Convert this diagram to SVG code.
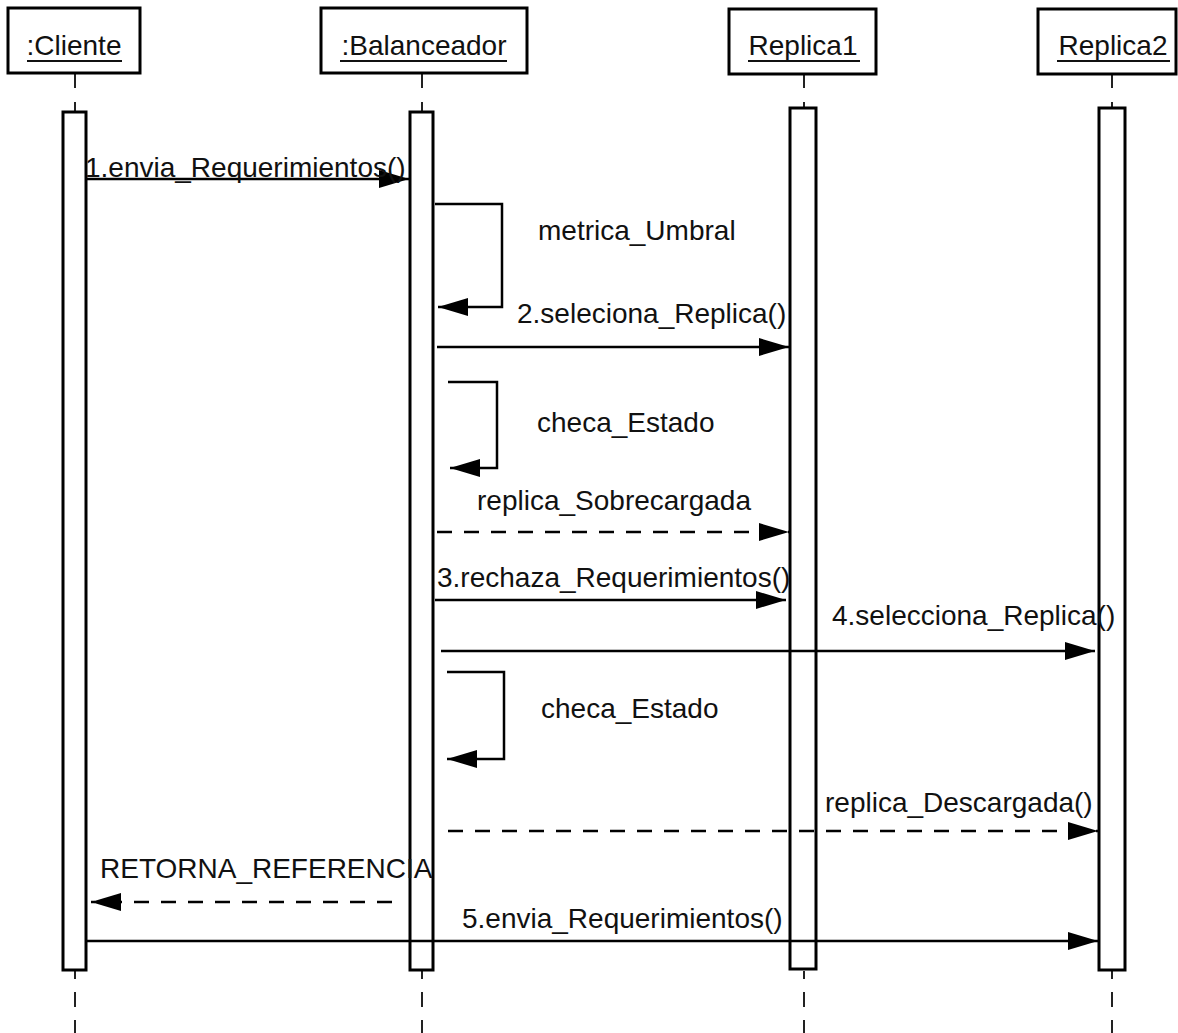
<svg xmlns="http://www.w3.org/2000/svg" width="1178" height="1033" viewBox="0 0 1178 1033">
  <style>
    .obj { fill: #fff; stroke: #000; stroke-width: 3; }
    .act { fill: #fff; stroke: #000; stroke-width: 3; }
    .life { stroke: #222; stroke-width: 2; fill: none; }
    .msg { stroke: #000; stroke-width: 2.5; fill: none; marker-end: url(#head); }
    .dash { stroke-dasharray: 15 12; }
    text { font-family: "Liberation Sans", Arial, sans-serif; font-size: 28px; fill: #111; }
    .name { text-anchor: middle; }
    .uline { stroke: #111; stroke-width: 2; }
  </style>
  <defs>
    <marker id="head" viewBox="0 0 30 18" refX="30" refY="9" markerWidth="30" markerHeight="18" markerUnits="userSpaceOnUse" orient="auto">
      <path d="M0,0 L30,9 L0,18 z" fill="#000"/>
    </marker>
  </defs>
  <rect width="1178" height="1033" fill="#fff"/>

  <!-- lifelines: dashed stems above and below each activation bar -->
  <g id="lifelines">
    <line class="life" x1="75" y1="74" x2="75" y2="112" stroke-dasharray="14 14"/>
    <line class="life" x1="75" y1="971" x2="75" y2="1033" stroke-dasharray="15 13" stroke-dashoffset="7"/>
    <line class="life" x1="422" y1="74" x2="422" y2="112" stroke-dasharray="14 14"/>
    <line class="life" x1="422" y1="971" x2="422" y2="1033" stroke-dasharray="15 13" stroke-dashoffset="7"/>
    <line class="life" x1="804" y1="74" x2="804" y2="108" stroke-dasharray="14 14"/>
    <line class="life" x1="804" y1="971" x2="804" y2="1033" stroke-dasharray="15 13" stroke-dashoffset="7"/>
    <line class="life" x1="1112" y1="74" x2="1112" y2="108" stroke-dasharray="14 14"/>
    <line class="life" x1="1112" y1="971" x2="1112" y2="1033" stroke-dasharray="15 13" stroke-dashoffset="7"/>
  </g>

  <g id="cliente">
    <rect class="obj" x="8" y="8" width="132" height="65"/>
    <text class="name" x="74" y="55">:Cliente</text>
    <line class="uline" x1="27" y1="61" x2="122" y2="61"/>
    <rect class="act" x="63" y="112" width="23" height="858"/>
  </g>

  <g id="balanceador">
    <rect class="obj" x="321" y="8" width="206" height="65"/>
    <text class="name" x="424" y="55">:Balanceador</text>
    <line class="uline" x1="340" y1="61" x2="507" y2="61"/>
    <rect class="act" x="410" y="112" width="23" height="858"/>
  </g>

  <g id="replica1">
    <rect class="obj" x="729" y="9" width="147" height="65"/>
    <text class="name" x="803" y="55">Replica1</text>
    <line class="uline" x1="748" y1="61" x2="860" y2="61"/>
    <rect class="act" x="790" y="108" width="26" height="861"/>
  </g>

  <g id="replica2">
    <rect class="obj" x="1038" y="9" width="138" height="65"/>
    <text class="name" x="1113" y="55">Replica2</text>
    <line class="uline" x1="1057" y1="61" x2="1170" y2="61"/>
    <rect class="act" x="1099" y="108" width="26" height="862"/>
  </g>

  <!-- messages -->
  <g id="connectors">
    <line class="msg" x1="87" y1="179" x2="409" y2="179"/>
    <path class="msg" d="M435,204 H502 V307 H438"/>
    <line class="msg" x1="437" y1="347" x2="789" y2="347"/>
    <path class="msg" d="M448,382 H497 V468 H450"/>
    <line class="msg dash" x1="437" y1="532" x2="789" y2="532"/>
    <line class="msg" x1="435" y1="600" x2="786" y2="600"/>
    <line class="msg" x1="441" y1="651" x2="1095" y2="651"/>
    <path class="msg" d="M447,672 H504 V759 H447"/>
    <line class="msg dash" x1="448" y1="831" x2="1098" y2="831"/>
    <line class="msg dash" x1="392" y1="902" x2="91" y2="902"/>
    <line class="msg" x1="86" y1="941" x2="1098" y2="941"/>
  </g>

  <g id="labels">
    <text x="85" y="177">1.envia_Requerimientos()</text>
    <text x="538" y="240">metrica_Umbral</text>
    <text x="517" y="323">2.seleciona_Replica()</text>
    <text x="537" y="432">checa_Estado</text>
    <text x="477" y="510">replica_Sobrecargada</text>
    <text x="437" y="587">3.rechaza_Requerimientos()</text>
    <text x="832" y="625">4.selecciona_Replica()</text>
    <text x="541" y="718">checa_Estado</text>
    <text x="825" y="812">replica_Descargada()</text>
    <text x="100" y="878">RETORNA_REFERENCIA</text>
    <text x="462" y="928">5.envia_Requerimientos()</text>
  </g>
</svg>
